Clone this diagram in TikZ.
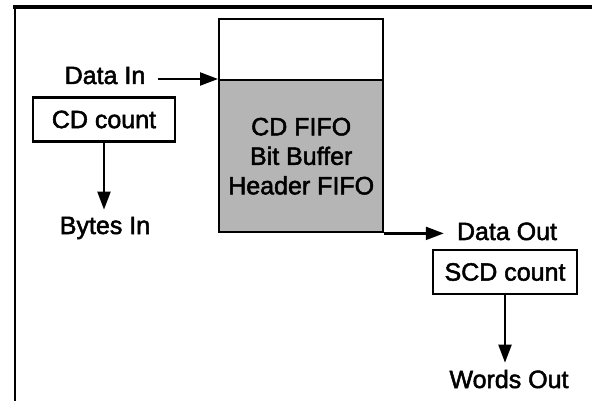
\documentclass[tikz,border=0pt]{standalone}
\usepackage{fontspec}
\setmainfont{Liberation Sans}
\newfontfamily\heavysans{Liberation Sans}[FakeBold=2]
\usetikzlibrary{arrows.meta}
\begin{document}
\begin{tikzpicture}[x=1pt,y=-1pt,
  txt/.style={font=\heavysans\fontsize{25}{29.5}\selectfont},
  lbl/.style={txt, inner sep=0pt},
  countbox/.style={draw, line width=2.4pt, txt, inner sep=0pt, minimum height=44pt},
  fifobox/.style={draw, line width=2.4pt, minimum width=164pt, anchor=north west},
  flow/.style={line width=2.2pt, -{Triangle[length=18pt,width=13pt]}},
]
\useasboundingbox (0,0) rectangle (592,401);
% outer frame (top and left rule)
\draw[line width=3.2pt] (13,7) -- (592,7);
\draw[line width=2.5pt] (15,7) -- (15,401);

% FIFO: empty part above, filled part below
\node[fifobox, minimum height=61pt] (fifotop) at (218,18) {};
\node[fifobox, minimum height=152pt, fill=black!29, align=center, txt] (fifo) at (218,79)
      {CD FIFO\\Bit Buffer\\Header FIFO};

% input side
\node[lbl, anchor=base] (datain) at (105,84) {Data In};
\node[countbox, minimum width=142pt] (cdcount) at (104,119.5) {CD count};
\node[lbl, anchor=base] (bytesin) at (105,234) {Bytes In};

% output side
\node[lbl, anchor=base] (dataout) at (507,240) {Data Out};
\node[countbox, minimum width=144pt] (scdcount) at (505,272) {SCD count};
\node[lbl, anchor=base] (wordsout) at (509,388) {Words Out};

% connectors
\draw[flow] ([xshift=12pt]datain.east |- fifo.north west) -- (fifo.north west);
\draw[flow, shorten >=7pt] (cdcount.south) -- (cdcount.south |- bytesin.north);
\draw[flow, shorten >=13pt] (fifo.south east) -- (dataout.west |- fifo.south east);
\draw[flow, shorten >=7pt] (scdcount.south) -- (scdcount.south |- wordsout.north);
\end{tikzpicture}
\end{document}
